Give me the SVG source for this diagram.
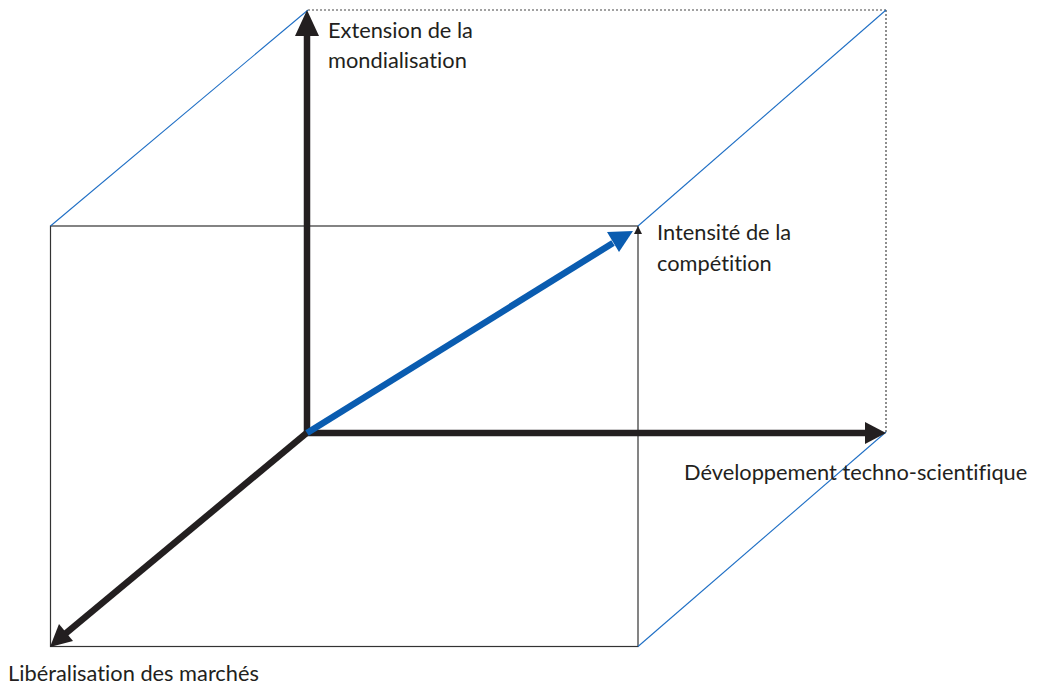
<svg xmlns="http://www.w3.org/2000/svg" width="1038" height="685" viewBox="0 0 1038 685">
<style>
.box{fill:none;stroke:#333;stroke-width:1.2}
.dot{fill:none;stroke:#444;stroke-width:1.2;stroke-dasharray:2 2}
.edge{fill:none;stroke:#1f6fc5;stroke-width:1.1}
.axis{fill:none;stroke:#231f20;stroke-width:6.5}
.blue{fill:none;stroke:#0a5cb0;stroke-width:6.5}
.lbl{font-family:Lato,"Open Sans",sans-serif;font-size:21.8px;fill:#231f20;font-variant-ligatures:none}
</style>
<rect width="1038" height="685" fill="#fff"/>
<g id="connectors">
<rect class="box" x="50.5" y="226" width="587.5" height="420.5"/>
<polygon points="638,226 634,234 642,234" fill="#231f20"/>
<line class="dot" x1="308" y1="10" x2="886" y2="10"/>
<line class="dot" x1="886" y1="10" x2="886" y2="432"/>
<line class="edge" x1="50.5" y1="226" x2="308" y2="10"/>
<line class="edge" x1="638" y1="226" x2="886" y2="10"/>
<line class="edge" x1="638" y1="646.5" x2="886" y2="432"/>
<line class="axis" x1="307" y1="433" x2="307" y2="34"/>
<polygon points="307,10 295,36 319,36" fill="#231f20"/>
<line class="axis" x1="307" y1="433" x2="866" y2="433"/>
<polygon points="886,433 865,422 865,444" fill="#231f20"/>
<line class="axis" x1="309" y1="431" x2="65" y2="634"/>
<polygon points="50,647 59,624 73,641" fill="#231f20"/>
<line class="blue" x1="307" y1="433" x2="613" y2="243"/>
<polygon points="633,231 607,232 619,252" fill="#0a5cb0"/>
</g>
<g id="n1"><text class="lbl" x="328" y="38">Extension de la</text><text class="lbl" x="328" y="68">mondialisation</text></g>
<g id="n2"><text class="lbl" x="657" y="240">Intensité de la</text><text class="lbl" x="657" y="271">compétition</text></g>
<g id="n3"><text class="lbl" x="684" y="480">Développement techno-scientifique</text></g>
<g id="n4"><text class="lbl" x="8" y="681">Libéralisation des marchés</text></g>
</svg>
